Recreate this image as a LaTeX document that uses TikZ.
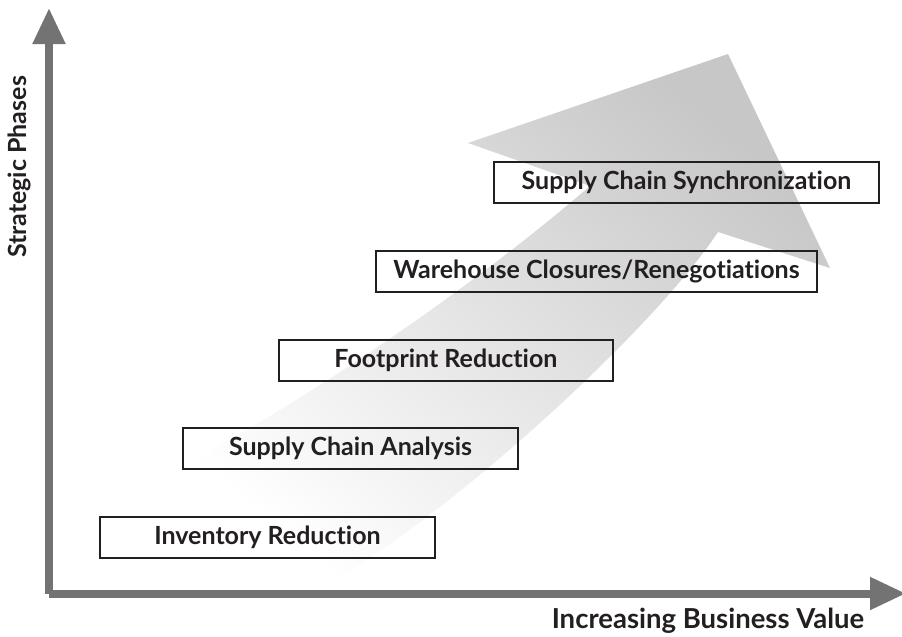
\documentclass[tikz,border=0pt]{standalone}
\usepackage{fontspec}
\setmainfont{Lato}[Ligatures=NoCommon]
\usepackage{tikz}
\usetikzlibrary{arrows.meta,positioning}

\definecolor{axisgray}{HTML}{737373}
\definecolor{inkblack}{HTML}{231F20}

\begin{document}
\begin{tikzpicture}[
  x=1pt, y=-1pt,
  phase/.style={draw=inkblack, line width=2pt, minimum height=41pt,
                inner sep=0pt, font=\fontsize{25}{27}\selectfont\bfseries,
                text=inkblack},
  axis/.style={draw=axisgray, line width=8pt, line join=miter,
               -{Triangle[length=36pt, width=31pt, fill=axisgray]}},
  lbl/.style={font=\bfseries, text=inkblack}
]
\useasboundingbox (0,0) rectangle (902,637);

% big sweeping arrow in the background
\shade[top color=black!22, bottom color=white, shading angle=-40]
  (147,483) .. controls (280,420) and (470,290) .. (590,186)
  -- (468,143) -- (728,54) -- (830,268) -- (718,232)
  .. controls (660,320) and (480,490) .. (337,580) -- cycle;

% axes
\coordinate (corner) at (49,593.5);
\coordinate (ytop) at (49,8);
\coordinate (xend) at (906,593.5);
\draw[axis] (corner) -- (ytop);
\draw[axis] (corner) -- (xend);

\node[lbl, rotate=90, font=\fontsize{25}{27}\selectfont\bfseries] (ylbl) at (19,167) {Strategic Phases};
\node[lbl, font=\fontsize{27.5}{30}\selectfont\bfseries] (xlbl) at (708,621) {Increasing Business Value};

% the five phases
\node[phase, minimum width=335pt] (inv)  at (267.5,537.5) {Inventory Reduction};
\node[phase, minimum width=335pt] (sca)  at (350.5,448)   {Supply Chain Analysis};
\node[phase, minimum width=334pt] (foot) at (446,360)     {Footprint Reduction};
\node[phase, minimum width=441pt] (ware) at (596.5,271)   {Warehouse Closures/Renegotiations};
\node[phase, minimum width=385pt] (sync) at (686.5,182.5) {Supply Chain Synchronization};
\end{tikzpicture}
\end{document}
